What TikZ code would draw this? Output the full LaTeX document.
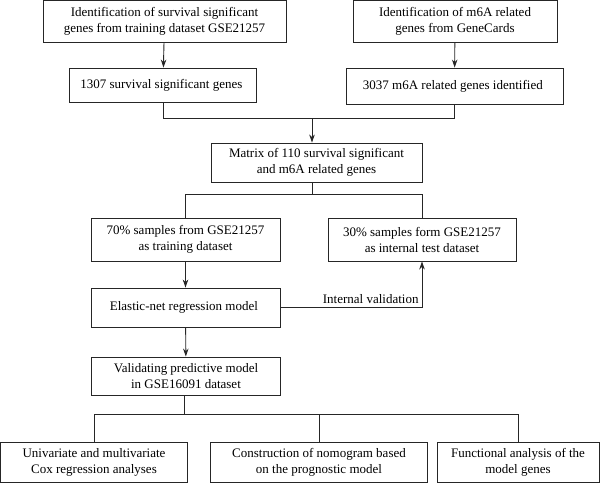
\documentclass[tikz,border=0pt]{standalone}
\usepackage{fontspec}
\setmainfont{Liberation Serif}
\usetikzlibrary{arrows.meta}

\begin{document}
\begin{tikzpicture}[
    x=1pt,y=-1pt,
    box/.style={draw=black!85,line width=0.9pt,align=center,inner sep=2pt,font=\fontsize{13}{16}\selectfont},
    arrow/.style={-{Stealth[length=8pt,width=5.5pt]},line width=0.9pt,draw=black!85},
    link/.style={line width=0.9pt,draw=black!85}
]
    \useasboundingbox (0,0) rectangle (600,483);
    % Top rows: gene sources
    \node[box,minimum width=243pt,minimum height=42pt] (idsurv) at (164.5,21) {
        Identification of survival significant\\
        genes from training dataset GSE21257
    };
    \node[box,minimum width=204pt,minimum height=42pt] (idm6a) at (455,21) {
        Identification of m6A related\\
        genes from GeneCards
    };
    \node[box,minimum width=187pt,minimum height=34pt] (surv) at (163,85) {
        1307 survival significant genes
    };
    \node[box,minimum width=217pt,minimum height=36pt] (m6a) at (454.5,86) {
        3037 m6A related genes identified
    };
    % Middle: matrix and split
    \node[box,minimum width=211pt,minimum height=39pt] (matrix) at (316.5,162.5) {
        Matrix of 110 survival significant\\
        and m6A related genes
    };
    \node[box,minimum width=189pt,minimum height=43pt] (train) at (185.5,239.5) {
        70\% samples from GSE21257\\
        as training dataset
    };
    \node[box,minimum width=188pt,minimum height=43pt] (test) at (422,239.5) {
        30\% samples form GSE21257\\
        as internal test dataset
    };
    \node[box,minimum width=189pt,minimum height=39pt] (enet) at (185.5,307.5) {
        Elastic-net regression model
    };
    \node[box,minimum width=189pt,minimum height=38pt] (valid) at (186,376) {
        Validating predictive model\\
        in GSE16091 dataset
    };
    % Bottom: analyses
    \node[box,minimum width=187pt,minimum height=40pt] (cox) at (94,462) {
        Univariate and multivariate\\
        Cox regression analyses
    };
    \node[box,minimum width=217pt,minimum height=40pt] (nomo) at (319,462) {
        Construction of nomogram based\\
        on the prognostic model
    };
    \node[box,minimum width=162pt,minimum height=40pt] (func) at (518,462) {
        Functional analysis of the\\
        model genes
    };
    % Junctions
    \coordinate (join1) at (312,118);
    \coordinate (join2) at (312,194);
    \coordinate (join3) at (184,414);
    % Arrows
    \draw[arrow] (idsurv) -- (surv);
    \draw[arrow] (idm6a) -- (m6a);
    \draw[link] (surv) -- (surv.south |- join1) -- (m6a.south |- join1) -- (m6a);
    \draw[arrow] (join1) -- (join1 |- matrix.north);
    \draw[link] (matrix.south -| join2) -- (join2);
    \draw[link] (train.north |- join2) -- (test.north |- join2) -- (test.north);
    \draw[link] (train.north |- join2) -- (train.north);
    \draw[arrow] (train) -- (enet);
    \draw[arrow] (enet.east) -| node[pos=0.5,above left,inner sep=3pt,font=\fontsize{13}{16}\selectfont] (intval) {Internal validation} (test.south);
    \draw[arrow] (enet) -- (valid);
    \draw[link] (valid.south -| join3) -- (join3);
    \draw[link] (cox.north |- join3) -- (func.north |- join3) -- (func.north);
    \draw[link] (cox.north |- join3) -- (cox.north);
    \draw[link] (nomo.north |- join3) -- (nomo.north);
\end{tikzpicture}
\end{document}
